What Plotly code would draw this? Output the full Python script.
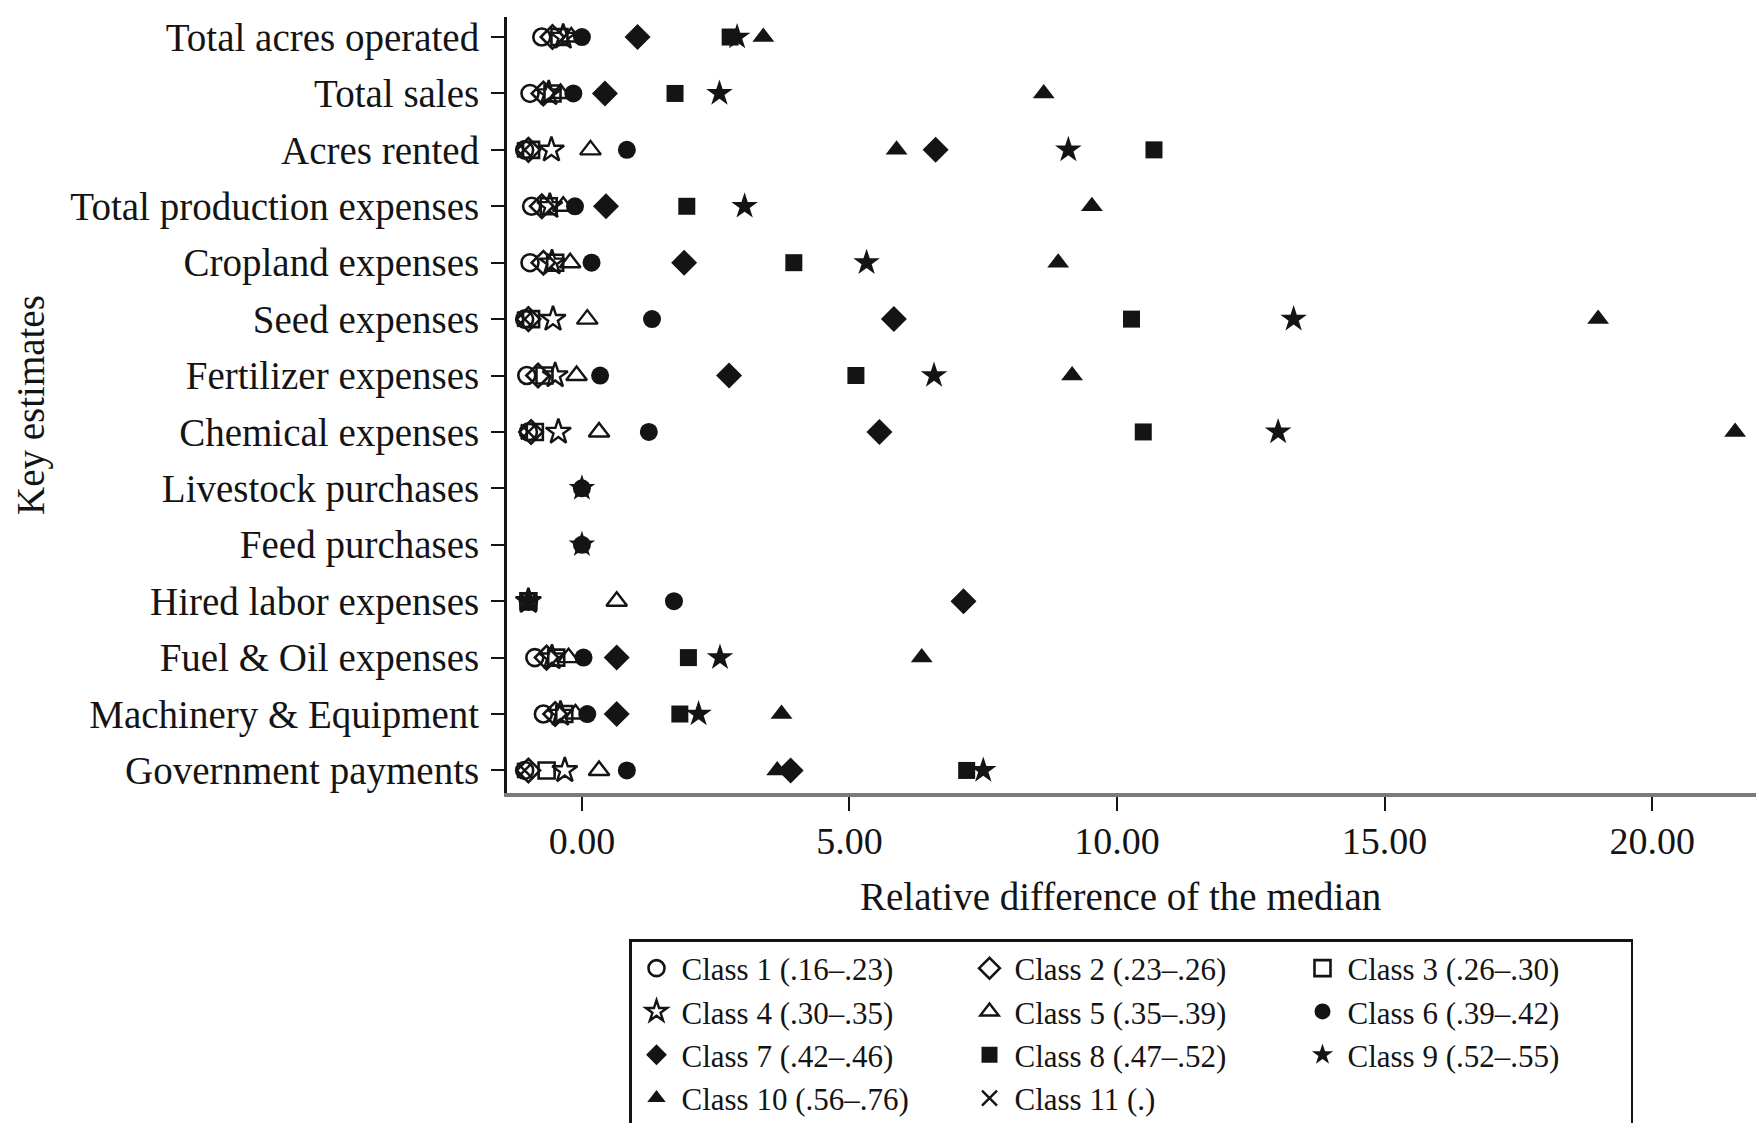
import plotly.graph_objects as go

# Key estimates (rows, top to bottom)
estimates = [
    "Total acres operated", "Total sales", "Acres rented",
    "Total production expenses", "Cropland expenses", "Seed expenses",
    "Fertilizer expenses", "Chemical expenses", "Livestock purchases",
    "Feed purchases", "Hired labor expenses", "Fuel & Oil expenses",
    "Machinery & Equipment", "Government payments",
]

# Relative difference of the median, one list per class (None = not shown)
class1 = [-0.75, -0.97, -1.07, -0.94, -0.97, -1.07, -1.03, -1.00, None, None, -1.00, -0.88, -0.72, -1.07]
class2 = [-0.55, -0.72, -1.00, -0.75, -0.72, -1.00, -0.82, -0.95, None, None, None, -0.66, -0.50, -1.00]
class3 = [-0.42, -0.55, -0.95, -0.62, -0.50, -0.95, -0.70, -0.88, None, None, -1.00, -0.48, -0.33, -0.66]
class4 = [-0.35, -0.62, -0.57, -0.60, -0.56, -0.54, -0.50, -0.44, None, None, -1.00, -0.56, -0.40, -0.32]
class5 = [-0.20, -0.40, 0.16, -0.35, -0.22, 0.10, -0.10, 0.32, None, None, 0.65, -0.25, -0.12, 0.32]
class6 = [0.00, -0.16, 0.84, -0.13, 0.18, 1.31, 0.34, 1.25, 0.00, 0.00, 1.72, 0.03, 0.10, 0.84]
class7 = [1.04, 0.43, 6.61, 0.45, 1.91, 5.83, 2.75, 5.56, None, None, 7.13, 0.65, 0.65, 3.90]
class8 = [2.77, 1.74, 10.69, 1.96, 3.96, 10.27, 5.12, 10.49, None, None, None, 1.99, 1.83, 7.19]
class9 = [2.90, 2.57, 9.09, 3.04, 5.32, 13.30, 6.58, 13.01, 0.00, 0.00, -1.00, 2.58, 2.18, 7.50]
class10 = [3.39, 8.63, 5.88, 9.53, 8.90, 18.99, 9.16, 21.55, None, None, None, 6.35, 3.73, 3.65]
class11 = [None, None, -1.07, None, None, -1.07, None, -1.00, None, None, None, None, None, -1.07]

class_names = [
    "Class 1 (.16\u2013.23)", "Class 2 (.23\u2013.26)", "Class 3 (.26\u2013.30)",
    "Class 4 (.30\u2013.35)", "Class 5 (.35\u2013.39)", "Class 6 (.39\u2013.42)",
    "Class 7 (.42\u2013.46)", "Class 8 (.47\u2013.52)", "Class 9 (.52\u2013.55)",
    "Class 10 (.56\u2013.76)", "Class 11 (.)",
]
class_values = [class1, class2, class3, class4, class5, class6,
                class7, class8, class9, class10, class11]

x_ticks = [0, 5, 10, 15, 20]

# marker symbol, size and stroke for each class
symbols = ["circle-open", "diamond-open", "square-open", "star-open",
           "triangle-up-open", "circle", "diamond", "square", "star",
           "triangle-up", "x-thin-open"]
sizes = [17, 18, 16, 19, 18, 18, 20, 17, 20, 19, 15]
strokes = [2.6, 2.6, 2.6, 2.4, 2.4, 0, 0, 0, 0, 0, 2.4]

INK = "#141414"
SERIF = "Liberation Serif, Times New Roman, serif"

fig = go.Figure()
for name, vals, sym, sz, lw in zip(class_names, class_values, symbols, sizes, strokes):
    fig.add_trace(go.Scatter(
        x=vals, y=estimates, mode="markers", name=name,
        marker=dict(symbol=sym, size=sz, color=INK,
                    line=dict(color=INK, width=lw)),
        cliponaxis=False,
    ))

W, H = 1756, 1123
ML, MR, MT, MB = 507, 0, 17, 330
pw, ph = W - ML - MR, H - MT - MB

fig.update_layout(
    width=W, height=H,
    margin=dict(l=ML, r=MR, t=MT, b=MB, autoexpand=False),
    paper_bgcolor="white", plot_bgcolor="white",
    font=dict(family=SERIF, color=INK),
    showlegend=True,
    legend=dict(
        orientation="h", x=(629 - ML) / pw, y=(MT + ph - 939) / ph,
        xanchor="left", yanchor="top",
        bordercolor=INK, borderwidth=2.5, bgcolor="white",
        font=dict(family=SERIF, size=31, color=INK),
        entrywidth=278, entrywidthmode="pixels", itemwidth=40,
        itemsizing="trace", traceorder="normal",
    ),
    xaxis=dict(
        range=[-1.40, 21.94], tickvals=x_ticks, tickformat=".2f",
        showgrid=False, zeroline=False,
        showline=True, linecolor="#7a7a7a", linewidth=4,
        ticks="outside", ticklen=14, tickwidth=2, tickcolor=INK,
        tickfont=dict(family=SERIF, size=38, color=INK),
        ticklabelstandoff=-3,
    ),
    yaxis=dict(
        type="category", categoryorder="array", categoryarray=estimates,
        range=[13.40, -0.355],
        showgrid=False, zeroline=False,
        showline=True, linecolor=INK, linewidth=3,
        ticks="outside", ticklen=13, tickwidth=2, tickcolor=INK,
        tickfont=dict(family=SERIF, size=39, color=INK),
        ticklabelstandoff=4,
    ),
    annotations=[
        dict(text="Relative difference of the median", showarrow=False,
             xref="paper", yref="paper",
             x=(1120 - ML) / pw, y=(MT + ph - 896) / ph,
             xanchor="center", yanchor="middle",
             font=dict(family=SERIF, size=39, color=INK)),
        dict(text="Key estimates", showarrow=False, textangle=-90,
             xref="paper", yref="paper",
             x=(31 - ML) / pw, y=0.5,
             xanchor="center", yanchor="middle",
             font=dict(family=SERIF, size=39, color=INK)),
    ],
)

fig.write_html("out.html")
